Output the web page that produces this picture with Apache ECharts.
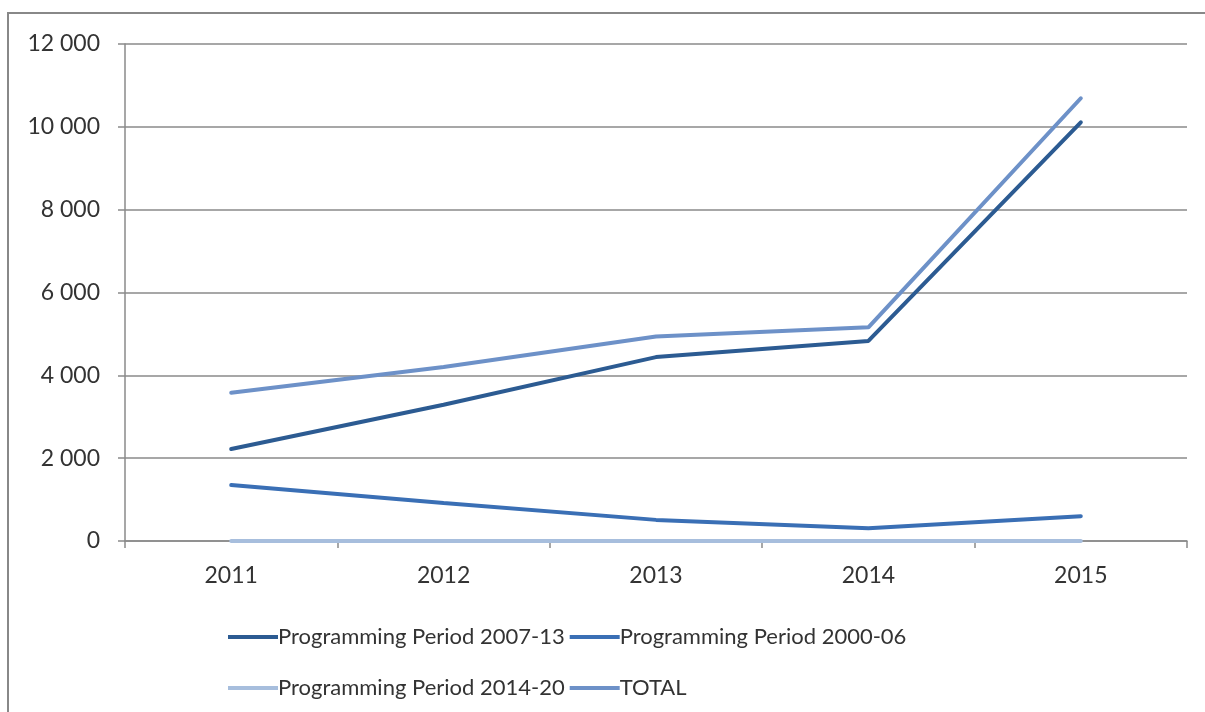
<!DOCTYPE html>
<html>
<head>
<meta charset="utf-8">
<script src="https://cdn.jsdelivr.net/npm/echarts@6/dist/echarts.min.js"></script>
<style>
  html, body { margin: 0; padding: 0; background: #fff; }
  #chart { width: 1205px; height: 712px; }
  .frame {
    position: absolute; left: 7px; top: 12px; width: 1300px; height: 800px;
    border-top: 2px solid #888; border-left: 2px solid #888; pointer-events: none;
  }
</style>
</head>
<body>
<div id="chart"></div>
<div class="frame"></div>
<script>
const years = ['2011', '2012', '2013', '2014', '2015'];
const period0713 = [2220, 3290, 4440, 4830, 10110];
const period0006 = [1350, 920, 510, 310, 600];
const period1420 = [0, 0, 0, 0, 0];
const total = [3580, 4200, 4940, 5160, 10690];
const yTicks = [0, 2000, 4000, 6000, 8000, 10000, 12000];

const colors = {
  p0713: '#2c5b92',
  p0006: '#3a6fb5',
  p1420: '#a7bedd',
  total: '#6d91c8',
};

const fmt = (v) => String(v).replace(/\B(?=(\d{3})+(?!\d))/g, ' ');

const chart = echarts.init(document.getElementById('chart'));

const lineSeries = (name, data, color) => ({
  name,
  type: 'line',
  data,
  symbol: 'none',
  lineStyle: { width: 4, color, cap: 'round' },
  itemStyle: { color },
});

const legendText = { color: '#333', fontSize: 22, fontFamily: 'Lato', padding: [0, 0, 0, -5] };

chart.setOption({
  animation: false,
  grid: { left: 125, right: 18, top: 44, bottom: 171 },
  legend: [
    {
      left: 223, top: 621, itemGap: 5, itemWidth: 50, itemHeight: 4,
      icon: 'rect',
      textStyle: legendText,
      data: ['Programming Period 2007-13', 'Programming Period 2000-06'],
    },
    {
      left: 223, top: 672, itemGap: 5, itemWidth: 50, itemHeight: 4,
      icon: 'rect',
      textStyle: legendText,
      data: ['Programming Period 2014-20', 'TOTAL'],
    },
  ],
  xAxis: {
    type: 'category',
    data: years,
    boundaryGap: true,
    axisLine: { lineStyle: { color: '#8a8a8a', width: 1.5 } },
    axisTick: { show: true, length: 7, lineStyle: { color: '#8a8a8a', width: 1.5 } },
    axisLabel: { color: '#333', fontSize: 23, fontFamily: 'Lato', margin: 23 },
  },
  yAxis: {
    type: 'value',
    min: yTicks[0],
    max: yTicks[yTicks.length - 1],
    interval: 2000,
    axisLine: { show: true, lineStyle: { color: '#8a8a8a', width: 1.5 } },
    axisTick: { show: true, length: 7, lineStyle: { color: '#8a8a8a', width: 1.5 } },
    splitLine: { lineStyle: { color: '#8a8a8a', width: 1.5 } },
    axisLabel: { color: '#333', fontSize: 23, fontFamily: 'Lato', margin: 25, formatter: fmt },
  },
  series: [
    lineSeries('Programming Period 2014-20', period1420, colors.p1420),
    lineSeries('Programming Period 2000-06', period0006, colors.p0006),
    lineSeries('TOTAL', total, colors.total),
    lineSeries('Programming Period 2007-13', period0713, colors.p0713),
  ],
});
</script>
</body>
</html>
